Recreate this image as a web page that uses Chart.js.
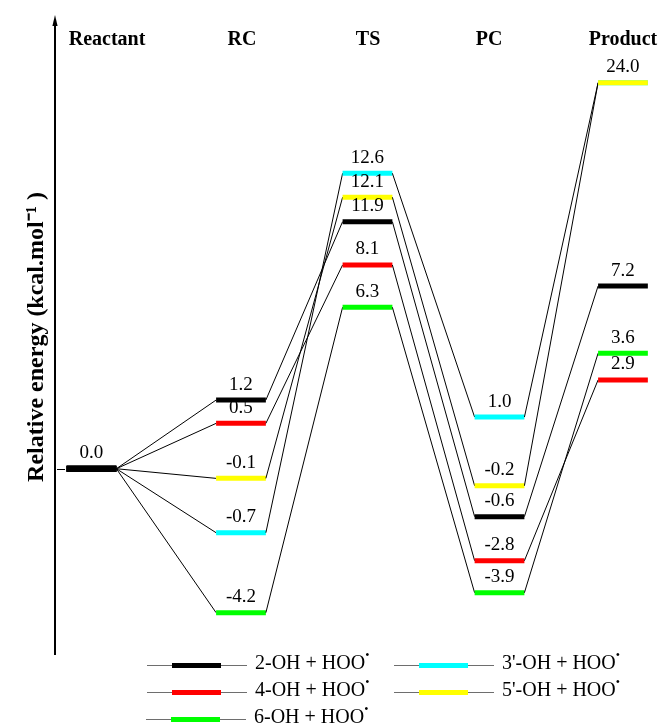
<!DOCTYPE html>
<html><head><meta charset="utf-8">
<script src="https://cdn.jsdelivr.net/npm/chart.js@4.4.1/dist/chart.umd.min.js"></script>
<style>
html,body{margin:0;padding:0;background:#fff;}
#wrap{position:relative;width:662px;height:726px;overflow:hidden;}
#legend{position:absolute;left:0;top:0;width:662px;height:726px;pointer-events:none;font-family:"Liberation Serif","Times New Roman",serif;font-size:20px;color:#000;}
.item{position:absolute;height:24px;display:flex;align-items:center;white-space:nowrap;}
.sample{position:relative;width:100px;height:24px;}
.sample .thin{position:absolute;left:0;right:0;top:11.5px;height:1.5px;background:#6e6e6e;}
.sample .thick{position:absolute;left:25px;width:49px;top:9.5px;height:5px;}
.txt{margin-left:8px;position:relative;top:-3px;}
.txt sup{font-size:12px;position:relative;top:-2px;}
</style></head>
<body><div id="wrap"><canvas id="c" width="662" height="726"></canvas><div id="legend"></div></div>
<script>
// ---------- data ----------
const stages = ['Reactant', 'RC', 'TS', 'PC', 'Product'];
const seriesNames = ['2-OH + HOO', '4-OH + HOO', '6-OH + HOO', "3'-OH + HOO", "5'-OH + HOO"];
// relative energies (kcal/mol) printed on each level
const energy2OH  = [0.0,  1.2, 11.9, -0.6,  7.2];
const energy4OH  = [0.0,  0.5,  8.1, -2.8,  2.9];
const energy6OH  = [0.0, -4.2,  6.3, -3.9,  3.6];
const energy3pOH = [0.0, -0.7, 12.6,  1.0, 24.0];
const energy5pOH = [0.0, -0.1, 12.1, -0.2, 24.0];
// schematic heights at which the levels are drawn (the diagram is not to scale)
const level2OH  = [0,  4.27, 15.36, -2.98, 11.36];
const level4OH  = [0,  2.82, 12.67, -5.72,  5.52];
const level6OH  = [0, -8.95, 10.04, -7.71,  7.18];
const level3pOH = [0, -3.98, 18.37,  3.21, 24.00];
const level5pOH = [0, -0.60, 16.88, -1.06, 24.00];

// ---------- layout / style ----------
const STAGE_CENTER = [0.601, 3.064, 5.148, 7.323, 9.357];
const STAGE_LABEL_X = [0.857, 3.08, 5.157, 7.15, 9.357];
const HALF = 0.41;
const COLORS = ['#000000', '#ff0000', '#00ff00', '#00ffff', '#ffff00'];
const ORDERS = [3, 3, 3, 4, 1];
const energies = [energy2OH, energy4OH, energy6OH, energy3pOH, energy5pOH];
const levels = [level2OH, level4OH, level6OH, level3pOH, level5pOH];

function buildPoints(lv) {
  const pts = [];
  lv.forEach((v, i) => {
    pts.push({x: STAGE_CENTER[i] - HALF, y: v});
    pts.push({x: STAGE_CENTER[i] + HALF, y: v});
  });
  return pts;
}

const datasets = seriesNames.map((name, k) => {
  const col = COLORS[k];
  return {
    label: name,
    data: buildPoints(levels[k]),
    energies: energies[k],
    levelColor: col,
    order: ORDERS[k],
    borderColor: '#000',
    borderWidth: 1,
    pointRadius: 0,
    tension: 0,
    fill: false,
    segment: {
      borderColor: ctx => (ctx.p0DataIndex % 2 === 0) ? (ctx.p0DataIndex === 0 ? '#000' : col) : '#000',
      borderWidth: ctx => (ctx.p0DataIndex % 2 === 0) ? (ctx.p0DataIndex === 0 ? 6 : 5) : 1
    }
  };
});

const decor = {
  id: 'decor',
  afterDatasetsDraw(chart) {
    const {ctx, chartArea, scales: {x, y}} = chart;
    ctx.save();
    // energy labels
    ctx.fillStyle = '#000';
    ctx.font = '19px "Liberation Serif", "Times New Roman", serif';
    ctx.textAlign = 'center';
    ctx.textBaseline = 'alphabetic';
    const seen = new Set();
    chart.data.datasets.forEach((ds, k) => {
      const meta = chart.getDatasetMeta(k);
      ds.energies.forEach((e, i) => {
        const key = i + ':' + e.toFixed(1);
        if (seen.has(key)) return;
        seen.add(key);
        const p0 = meta.data[2 * i], p1 = meta.data[2 * i + 1];
        ctx.fillText(e.toFixed(1), (p0.x + p1.x) / 2, p0.y - 10.5);
      });
    });
    // stage labels
    ctx.font = 'bold 20px "Liberation Serif", "Times New Roman", serif';
    stages.forEach((s, i) => ctx.fillText(s, x.getPixelForValue(STAGE_LABEL_X[i]), 45));
    // axis arrow head
    const ax = chartArea.left;
    ctx.beginPath();
    ctx.moveTo(ax, 15); ctx.lineTo(ax - 2.6, 26); ctx.lineTo(ax + 2.6, 26); ctx.closePath();
    ctx.fill();
    // zero tick
    const y0 = y.getPixelForValue(0);
    ctx.strokeStyle = '#000'; ctx.lineWidth = 1;
    ctx.beginPath(); ctx.moveTo(ax + 2, Math.round(y0) + 0.5); ctx.lineTo(ax + 10, Math.round(y0) + 0.5); ctx.stroke();
    ctx.restore();
  }
};

const chart = new Chart(document.getElementById('c'), {
  type: 'line',
  data: {datasets},
  options: {
    responsive: false,
    animation: false,
    devicePixelRatio: 1,
    events: [],
    layout: {padding: {top: 20, bottom: 72, left: 0, right: 0}},
    plugins: {legend: {display: false}, tooltip: {enabled: false}},
    scales: {
      x: {type: 'linear', display: false, min: 0, max: 10},
      y: {
        type: 'linear', min: -11.52, max: 27.90,
        grid: {display: false},
        ticks: {display: false},
        border: {display: true, color: '#000', width: 2},
        title: {
          display: true,
          text: 'Relative energy (kcal.mol\u207B\u00B9 )',
          color: '#000',
          font: {family: '"Liberation Serif", "Times New Roman", serif', size: 24, weight: 'bold'},
          padding: {top: 22, bottom: 4}
        },
        afterFit(scale) { scale.width = 55; }
      }
    }
  },
  plugins: [decor]
});

// HTML legend built from the chart's datasets
(function buildLegend() {
  const box = document.getElementById('legend');
  const colLeft = [147, 394];
  const rowMid = [665, 692, 719];
  chart.data.datasets.forEach((ds, k) => {
    const col = Math.floor(k / 3), row = k % 3;
    const it = document.createElement('div');
    it.className = 'item';
    it.style.left = (colLeft[col] - (row === 2 ? 1 : 0)) + 'px';
    it.style.top = (rowMid[row] - 12) + 'px';
    it.innerHTML = '<div class="sample"><div class="thin"></div><div class="thick" style="background:' + ds.levelColor + '"></div></div>' +
      '<span class="txt">' + ds.label + '<sup>\u2022</sup></span>';
    box.appendChild(it);
  });
})();
</script>
</body></html>
